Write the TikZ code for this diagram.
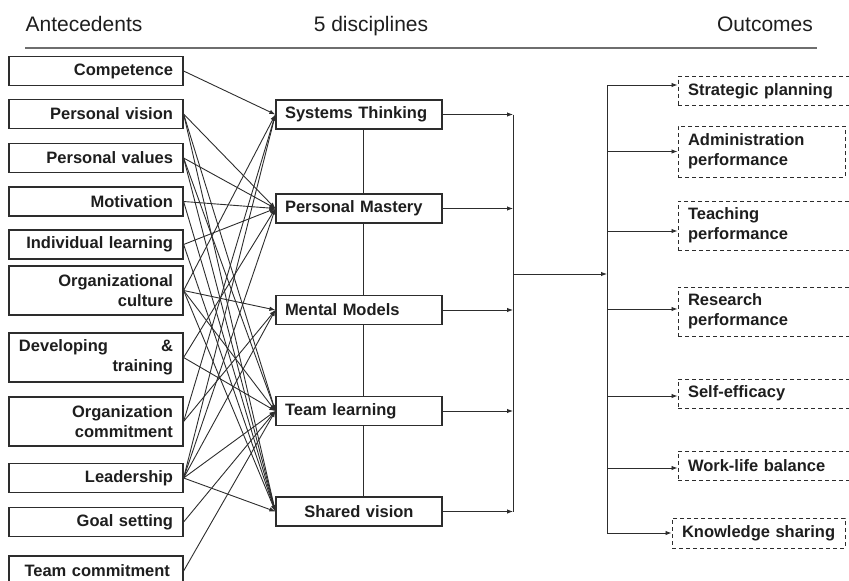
\documentclass[tikz,border=0pt]{standalone}
\usepackage{fontspec}
\setmainfont{Liberation Sans}
\usetikzlibrary{arrows.meta,positioning}

\begin{document}
\begin{tikzpicture}[x=1pt, y=-1pt, >={Latex[length=6pt,width=4.5pt]},
    font=\fontsize{16.5}{20}\selectfont\bfseries]

    % Define colors
    \definecolor{lineGray}{RGB}{45, 45, 45}
    \definecolor{textGray}{RGB}{30, 30, 30}
    \definecolor{ruleGray}{RGB}{110, 110, 110}

    \tikzset{
      antebox/.style={draw=lineGray, line width=1.2pt, fill=white, text=textGray,
        minimum width=174pt, minimum height=29pt, inner xsep=10pt, inner ysep=0pt,
        text width=154pt, align=right},
      discbox/.style={draw=lineGray, line width=1.2pt, fill=white, text=textGray,
        minimum width=166pt, minimum height=29pt, inner xsep=9pt, inner ysep=0pt,
        text width=148pt, align=left},
      outbox/.style={draw=lineGray, line width=1pt, dash pattern=on 4pt off 3pt, fill=white, text=textGray,
        minimum height=29pt, inner xsep=10pt, inner ysep=0pt, align=left},
      head/.style={font=\fontsize{21}{24}\selectfont, text=textGray, anchor=base},
      link/.style={draw=lineGray, line width=0.9pt, ->},
      plain/.style={draw=lineGray, line width=0.9pt},
    }

    \clip (0,0) rectangle (849,581);

    % === HEADINGS ===
    \node[head] (hante) at (84,31) {Antecedents};
    \node[head] (hdisc) at (371,31) {5 disciplines};
    \node[head] (hout) at (765,31) {Outcomes};
    \draw[ruleGray, line width=1.5pt] (25,48) -- (817,48);

    % === ANTECEDENTS ===
    \node[antebox] (comp) at (96,71) {Competence};
    \node[antebox] (pvis) at (96,114) {Personal vision};
    \node[antebox] (pval) at (96,158) {Personal values};
    \node[antebox] (moti) at (96,201.5) {Motivation};
    \node[antebox] (indl) at (96,244.5) {Individual learning};
    \node[antebox, minimum height=49pt] (orgc) at (96,290.5) {Organizational\\culture};
    \node[antebox, minimum height=49pt] (devt) at (96,357.5) {Developing\hfill\&\\training};
    \node[antebox, minimum height=49pt] (orgm) at (96,421.5) {Organization\\commitment};
    \node[antebox] (lead) at (96,478) {Leadership};
    \node[antebox] (goal) at (96,522) {Goal setting};
    \node[antebox, minimum height=30pt, inner xsep=5pt, text width=164pt] (team) at (96,571) {Team commitment\hspace*{8pt}};

    % === 5 DISCIPLINES ===
    \node[discbox] (st) at (359,114.5) {Systems Thinking};
    \node[discbox] (pm) at (359,208.5) {Personal Mastery};
    \node[discbox] (mm) at (359,310) {Mental Models};
    \node[discbox] (tl) at (359,411) {Team learning};
    \node[discbox, align=center] (sv) at (359,511.5) {Shared vision};

    \foreach \a/\b in {st/pm, pm/mm, mm/tl, tl/sv}
      \draw[plain] ([xshift=4pt]\a.south) -- ([xshift=4pt]\b.north);

    % === OUTCOMES ===
    \node[outbox, minimum width=173pt, text width=153pt] (sp) at (764.5,91) {Strategic planning};
    \node[outbox, minimum width=167pt, text width=147pt, minimum height=51pt] (ap) at (761.5,151.5) {Administration\\performance};
    \node[outbox, minimum width=173pt, text width=153pt, minimum height=49pt] (tp) at (764.5,225.5) {Teaching\\performance};
    \node[outbox, minimum width=173pt, text width=153pt, minimum height=49pt] (rp) at (764.5,311.5) {Research\\performance};
    \node[outbox, minimum width=173pt, text width=153pt] (se) at (764.5,393.5) {Self-efficacy};
    \node[outbox, minimum width=173pt, text width=153pt] (wl) at (764.5,465.5) {Work-life balance};
    \node[outbox, minimum width=173pt, inner xsep=8pt, text width=157pt, minimum height=30pt] (ks) at (758.5,533) {\hspace*{2pt}Knowledge sharing};

    % === ANTECEDENT LINKS ===
    \foreach \src/\dst in {comp/st, pvis/pm, pvis/tl, pvis/sv, pval/pm, pval/tl, pval/sv,
        moti/pm, moti/sv, indl/pm, indl/sv, orgc/st, orgc/mm, orgc/tl, orgc/sv,
        devt/pm, devt/tl, orgm/st, orgm/mm, lead/st, lead/pm, lead/mm, lead/tl,
        lead/sv, goal/tl, team/tl}
      \draw[link] (\src.east) -- (\dst.west);

    % === COLLECTING BUSES ===
    \coordinate (busL) at (513,274);
    \coordinate (busR) at (607,274);
    \foreach \d in {st, pm, mm, tl, sv}
      \draw[link] (\d.east) -- (\d.east -| busL);
    \draw[plain] (st.east -| busL) -- (sv.east -| busL);
    \draw[link] (busL) -- (busR);
    \draw[plain] ([yshift=6pt]sp.west -| busR) -- (ks.west -| busR);
    \foreach \o/\s in {sp/6, ap/0, tp/-5.5, rp/2.5, se/-2.5, wl/-2.5, ks/0}
      \draw[link] ([yshift=\s pt]\o.west -| busR) -- ([yshift=\s pt]\o.west);

\end{tikzpicture}
\end{document}
